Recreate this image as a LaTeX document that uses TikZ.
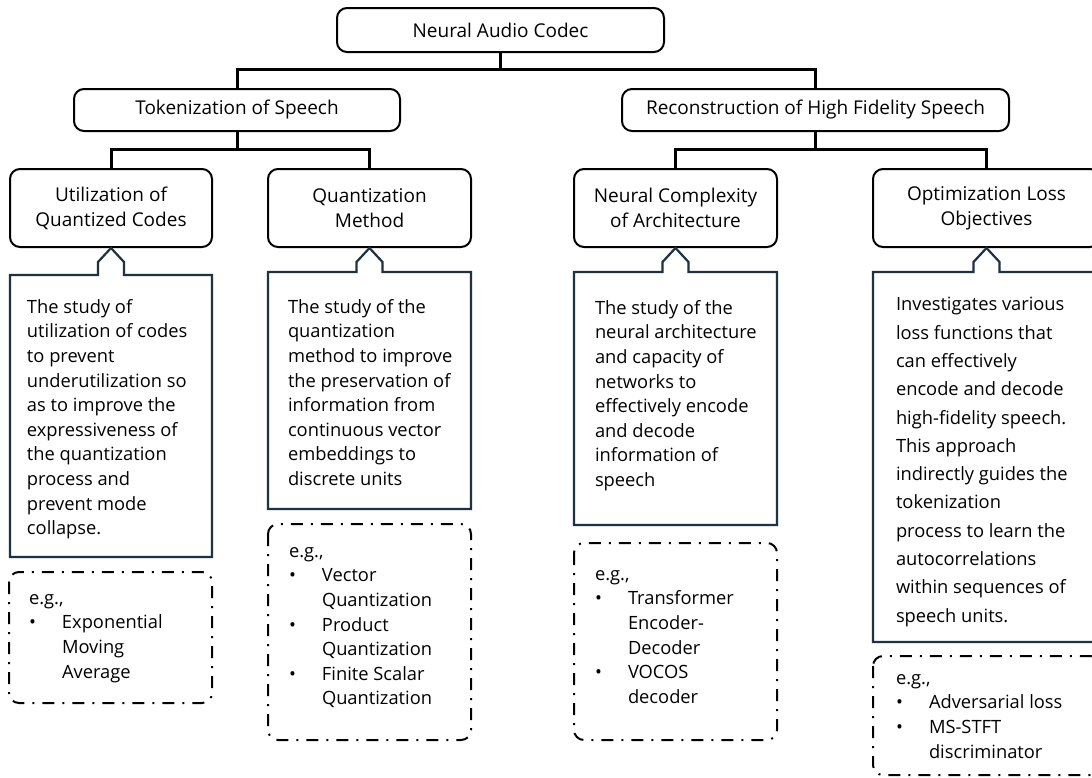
\documentclass[tikz,border=0pt]{standalone}
\usepackage{fontspec}
\setmainfont{Open Sans}
\usetikzlibrary{calc}
\definecolor{calloutcol}{RGB}{30,50,68}
\tikzset{
  lvlbox/.style={draw=black, line width=2pt, rounded corners=10pt, fill=white,
    inner sep=0pt, outer sep=0pt, align=center, font=\fontsize{19}{25}\selectfont},
  conn/.style={draw=black, line width=3pt},
  callout/.style={draw=calloutcol, line width=2.2pt, fill=white, line join=miter},
  egbox/.style={draw=black, line width=2pt, rounded corners=10pt, inner sep=0pt,
    dash pattern=on 12pt off 8pt on 2pt off 8pt},
  desc/.style={anchor=north west, inner sep=0pt, outer sep=0pt, align=left,
    font=\fontsize{18.3}{24.6}\selectfont},
}
% bullet with hanging indent for the example lists
\newcommand\egbul{\makebox[33pt][l]{\textbullet}}
\newcommand\egind{\hspace*{33pt}}
% callout outline: left, top, right, bottom, pointer x
\newcommand\drawcallout[5]{%
  \draw[callout] (#1,#2) -- (#5-13,#2) -- (#5-13,262) -- (#5,248) -- (#5+13,262)
    -- (#5+13,#2) -- (#3,#2) -- (#3,#4) -- (#1,#4) -- cycle;}
\begin{document}
\begin{tikzpicture}[x=1pt, y=-1pt]
\fill[white] (0,0) rectangle (1092,777);
\useasboundingbox (0,0) rectangle (1092,777);

% hierarchy boxes
\node[lvlbox, minimum width=327pt, minimum height=44pt] (nac) at (500.5,30) {Neural Audio Codec};
\node[lvlbox, minimum width=326pt, minimum height=42pt] (tok) at (237,110) {Tokenization of Speech};
\node[lvlbox, minimum width=387pt, minimum height=42pt] (rec) at (815.5,110) {Reconstruction of High Fidelity Speech};
\node[lvlbox, minimum width=202pt, minimum height=78pt] (util) at (111,208) {Utilization of\\Quantized Codes};
\node[lvlbox, minimum width=203pt, minimum height=78pt] (quant) at (369.5,208) {Quantization\\Method};
\node[lvlbox, minimum width=203pt, minimum height=78pt] (arch) at (675.5,208) {Neural Complexity\\of Architecture};
\node[lvlbox, minimum width=227pt, minimum height=78pt] (loss) at (986.5,208) {Optimization Loss\\Objectives};

% tree connectors
\coordinate (j0) at ([yshift=-17pt]nac.south);
\coordinate (j1) at ([yshift=-18pt]tok.south);
\coordinate (j2) at ([yshift=-18pt]rec.south);
\draw[conn] (nac.south) -- (j0);
\draw[conn] (tok.north) |- (j0) -| (rec.north);
\draw[conn] (tok.south) -- (j1);
\draw[conn] (util.north) |- (j1) -| (quant.north);
\draw[conn] (rec.south) -- (j2);
\draw[conn] (arch.north) |- (j2) -| (loss.north);

% description callouts
\drawcallout{10}{275}{212}{557}{111}
\drawcallout{268}{272}{471}{509}{369.5}
\drawcallout{574}{272}{777}{525}{675.5}
\drawcallout{873}{272}{1100}{642}{986.5}

\node[desc] (d1) at (27,296) {\strut The study of\\utilization of codes\\to prevent\\underutilization so\\as to improve the\\expressiveness of\\the quantization\\process and\\prevent mode\\collapse.};
\node[desc] (d2) at (288,296) {\strut The study of the\\quantization\\method to improve\\the preservation of\\information from\\continuous vector\\embeddings to\\discrete units};
\node[desc] (d3) at (595,297) {\strut The study of the\\neural architecture\\and capacity of\\networks to\\effectively encode\\and decode\\information of\\speech};
\node[desc, font=\fontsize{18.3}{28.3}\selectfont] (d4) at (896,291) {\strut Investigates various\\loss functions that\\can effectively\\encode and decode\\high-fidelity speech.\\This approach\\indirectly guides the\\tokenization\\process to learn the\\autocorrelations\\within sequences of\\speech units.};

% example boxes
\draw[egbox] (9,572) rectangle (212,703);
\draw[egbox] (268,524) rectangle (471,740);
\draw[egbox] (574,543) rectangle (777,740);
\draw[egbox] (873,656) rectangle (1100,775);

\node[desc] (e1) at (29,587) {\strut e.g.,\\\egbul Exponential\\\egind Moving\\\egind Average};
\node[desc] (e2) at (289,540) {\strut e.g.,\\\egbul Vector\\\egind Quantization\\\egbul Product\\\egind Quantization\\\egbul Finite Scalar\\\egind Quantization};
\node[desc] (e3) at (595,563) {\strut e.g.,\\\egbul Transformer\\\egind Encoder-\\\egind Decoder\\\egbul VOCOS\\\egind decoder};
\node[desc] (e4) at (896,667) {\strut e.g.,\\\egbul Adversarial loss\\\egbul MS-STFT\\\egind discriminator};
\end{tikzpicture}
\end{document}
